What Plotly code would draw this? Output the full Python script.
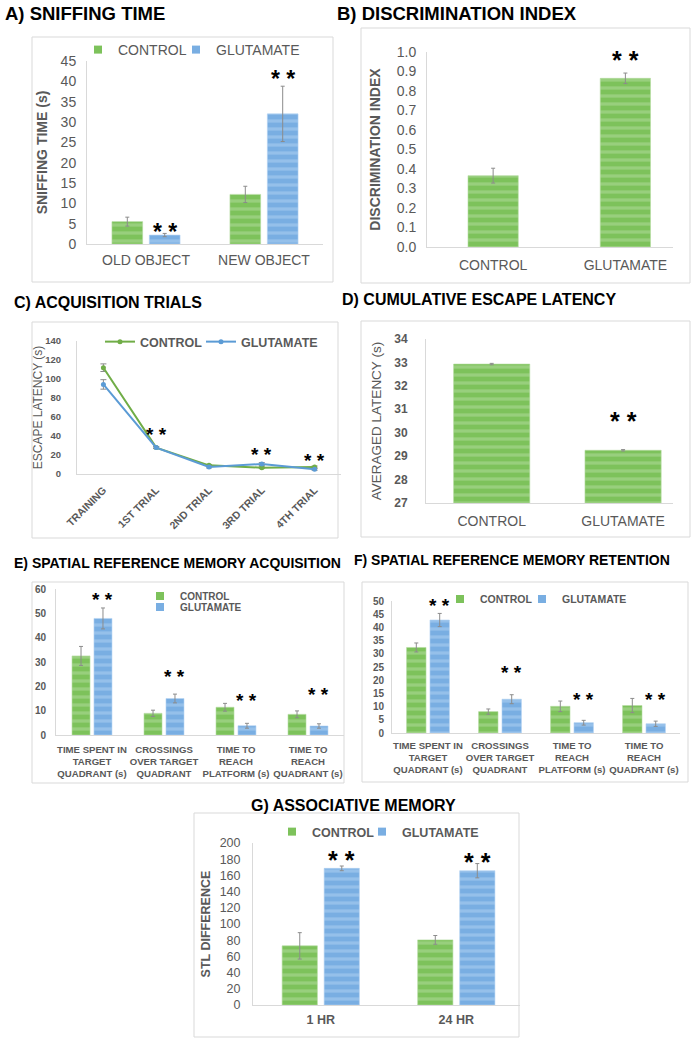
import plotly.graph_objects as go

W, H = 693, 1038
FONT = "Liberation Sans, Arial, sans-serif"
GRAY = "#595959"
GREEN, GREEN_L = "#7dc25b", "#b4dc9f"
BLUE, BLUE_L = "#79aee2", "#b1d2f1"
LINE_G, LINE_B = "#70ad47", "#5b9bd5"
ERR = "#8c8c8c"
FRAME = "#d9d9d9"

# ---------------- data ----------------
groups = ["CONTROL", "GLUTAMATE"]

# A) sniffing time
a_cats = ["OLD OBJECT", "NEW OBJECT"]
a_control = [5.5, 12.2]
a_control_err = [1.1, 2.0]
a_glut = [2.2, 32.0]
a_glut_err = [0.4, 6.8]
a_sig = [2.9, 40.5]

# B) discrimination index
b_cats = ["CONTROL", "GLUTAMATE"]
b_vals = [0.366, 0.865]
b_err = [0.038, 0.027]
b_sig = [None, 0.96]

# C) acquisition trials
c_cats = ["TRAINING", "1ST TRIAL", "2ND TRIAL", "3RD TRIAL", "4TH TRIAL"]
c_control = [111.9, 27.8, 9.1, 6.7, 7.4]
c_control_err = [4.0, 1.0, 1.0, 1.0, 1.0]
c_glut = [94.3, 27.8, 7.4, 10.5, 4.9]
c_glut_err = [5.0, 1.0, 1.0, 1.5, 1.0]
c_sig = [None, 42.0, None, 20.6, 14.4]

# D) cumulative escape latency
d_cats = ["CONTROL", "GLUTAMATE"]
d_vals = [32.93, 29.25]
d_err = [0.03, 0.03]
d_sig = [None, 30.51]

# E) spatial reference memory acquisition
e_cats = ["TIME SPENT IN<br>TARGET<br>QUADRANT (s)",
          "CROSSINGS<br>OVER TARGET<br>QUADRANT",
          "TIME TO<br>REACH<br>PLATFORM (s)",
          "TIME TO<br>REACH<br>QUADRANT (s)"]
e_control = [32.5, 8.9, 11.4, 8.5]
e_control_err = [3.9, 1.3, 1.6, 1.4]
e_glut = [47.9, 15.0, 3.8, 3.7]
e_glut_err = [4.3, 1.8, 1.0, 0.9]
e_sig = [55.7, 24.1, 14.1, 16.5]

# F) spatial reference memory retention
f_cats = e_cats
f_control = [32.4, 8.1, 10.1, 10.4]
f_control_err = [1.7, 1.0, 2.0, 2.7]
f_glut = [42.8, 12.8, 3.9, 3.5]
f_glut_err = [2.5, 1.7, 0.9, 1.0]
f_sig = [48.3, 23.0, 12.8, 12.8]

# G) associative memory
g_cats = ["1 HR", "24 HR"]
g_control = [73.0, 80.4]
g_control_err = [16.3, 5.4]
g_glut = [168.7, 165.8]
g_glut_err = [2.9, 8.8]
g_sig = [178.9, 176.8]

# ---------------- helpers ----------------
def px_x(px):
    return px / W

def px_y(py):
    return 1 - py / H

def xdom(l, r):
    return [l / W, r / W]

def ydom(top, bottom):
    return [1 - bottom / H, 1 - top / H]

def pattern(bg, fg):
    return dict(color=bg, line=dict(color=fg, width=0.6),
                pattern=dict(shape="-", fgcolor=fg, bgcolor=bg, size=8, solidity=0.4))

def errs(arr, w=2):
    return dict(type="data", array=arr, visible=True, color=ERR, thickness=1, width=w)

fig = go.Figure()
annotations = []

def sig_note(x, y, xa, ya, size):
    annotations.append(dict(x=x, y=y, xref=xa, yref=ya, text="* *", showarrow=False,
                            yanchor="middle",
                            font=dict(family=FONT, size=size, color="black", weight="bold")))

def legend_proxy(name, color, xa, ya, legend):
    fig.add_trace(go.Scatter(x=[None], y=[None], name=name, xaxis=xa, yaxis=ya,
                             mode="markers", legend=legend, hoverinfo="skip",
                             marker=dict(symbol="square", size=8, color=color,
                                         line=dict(color=color, width=0))))

def bar_pair(k, cats, cv, ce, gv, ge, w, gap, legends, sig, sigsize):
    xa = "x" if k == 1 else f"x{k}"
    ya = "y" if k == 1 else f"y{k}"
    fig.add_trace(go.Bar(x=cats, y=cv, name=groups[0], xaxis=xa, yaxis=ya,
                         width=w, offset=-(w + gap / 2),
                         marker=pattern(GREEN, GREEN_L), error_y=errs(ce),
                         showlegend=False, hoverinfo="x+y"))
    fig.add_trace(go.Bar(x=cats, y=gv, name=groups[1], xaxis=xa, yaxis=ya,
                         width=w, offset=gap / 2,
                         marker=pattern(BLUE, BLUE_L), error_y=errs(ge),
                         showlegend=False, hoverinfo="x+y"))
    legend_proxy(groups[0], GREEN, xa, ya, legends[0])
    legend_proxy(groups[1], BLUE, xa, ya, legends[1])
    for i, s in enumerate(sig):
        if s is not None:
            sig_note(i + gap / 2 + w / 2, s, xa, ya, sigsize)

def single_bars(k, cats, vals, err, w, sig, sigsize):
    xa, ya = f"x{k}", f"y{k}"
    fig.add_trace(go.Bar(x=cats, y=vals, xaxis=xa, yaxis=ya, width=w,
                         marker=pattern(GREEN, GREEN_L), error_y=errs(err),
                         showlegend=False, hoverinfo="x+y"))
    for i, s in enumerate(sig):
        if s is not None:
            sig_note(i, s, xa, ya, sigsize)

# A
bar_pair(1, a_cats, a_control, a_control_err, a_glut, a_glut_err, 0.26, 0.057,
         ["legend", "legend2"], a_sig, 23)
# B
single_bars(2, b_cats, b_vals, b_err, 0.38, b_sig, 25)
# C
fig.add_trace(go.Scatter(x=c_cats, y=c_control, name=groups[0], xaxis="x3", yaxis="y3",
                         mode="lines+markers", line=dict(color=LINE_G, width=2),
                         marker=dict(size=5, color=LINE_G), error_y=errs(c_control_err, 3),
                         legend="legend3"))
fig.add_trace(go.Scatter(x=c_cats, y=c_glut, name=groups[1], xaxis="x3", yaxis="y3",
                         mode="lines+markers", line=dict(color=LINE_B, width=2),
                         marker=dict(size=5, color=LINE_B), error_y=errs(c_glut_err, 3),
                         legend="legend4"))
for i, s in enumerate(c_sig):
    if s is not None:
        sig_note(i, s, "x3", "y3", 19)
# D
single_bars(4, d_cats, d_vals, d_err, 0.58, d_sig, 25)
# E
bar_pair(5, e_cats, e_control, e_control_err, e_glut, e_glut_err, 0.25, 0.055,
         ["legend5", "legend6"], e_sig, 19)
# F
bar_pair(6, f_cats, f_control, f_control_err, f_glut, f_glut_err, 0.27, 0.055,
         ["legend7", "legend8"], f_sig, 19)
# G
bar_pair(7, g_cats, g_control, g_control_err, g_glut, g_glut_err, 0.26, 0.05,
         ["legend9", "legend10"], g_sig, 25)

# ---------------- axes ----------------
def tf(size, bold=False):
    return dict(family=FONT, size=size, color=GRAY, weight="bold" if bold else "normal")

axes = {
    1: dict(x=(87, 323), y=(61, 244), xr=[-0.5, 1.5], yr=[0, 45], dt=5, fs=14, bold=False,
            xfs=14, xbold=False, ys=7, xs=3, title="SNIFFING TIME (s)", tfs=14, tbold=True, so=9),
    2: dict(x=(427, 673), y=(52, 247), xr=[-0.5, 1.36], yr=[0, 1.0], dt=0.1, fs=14, bold=False,
            xfs=14, xbold=False, ys=7, xs=5, title="DISCRIMINATION INDEX", tfs=14, tbold=True,
            so=12, fmt=".1f"),
    3: dict(x=(77, 341), y=(341, 474), xr=[-0.5, 4.5], yr=[0, 140], dt=20, fs=9.5, bold=True,
            xfs=10.5, xbold=True, ys=13, xs=5, title="ESCAPE LATENCY (s)", tfs=12, tbold=False,
            so=0, angle=-45),
    4: dict(x=(426, 673), y=(339, 503), xr=[-0.5, 1.38], yr=[27, 34], dt=1, fs=12, bold=True,
            xfs=14, xbold=False, ys=15, xs=5, title="AVERAGED LATENCY (s)", tfs=13.5,
            tbold=False, so=9),
    5: dict(x=(56, 344), y=(589, 735), xr=[-0.5, 3.5], yr=[0, 60], dt=10, fs=10, bold=True,
            xfs=9.6, xbold=True, ys=7, xs=5, title=None),
    6: dict(x=(392, 680), y=(601, 733), xr=[-0.5, 3.5], yr=[0, 50], dt=5, fs=10, bold=True,
            xfs=9.6, xbold=True, ys=5, xs=3, title=None),
    7: dict(x=(253, 520), y=(843, 1005), xr=[-0.5, 1.47], yr=[0, 200], dt=20, fs=12.5,
            bold=False, xfs=12.5, xbold=True, ys=9, xs=3, title="STL DIFFERENCE", tfs=12.5,
            tbold=True, so=6),
}

layout_axes = {}
for k, a in axes.items():
    xn = "xaxis" if k == 1 else f"xaxis{k}"
    yn = "yaxis" if k == 1 else f"yaxis{k}"
    xa = dict(domain=xdom(*a["x"]), range=a["xr"], type="category", showline=True,
              linecolor=FRAME, linewidth=1, showgrid=False, zeroline=False, ticks="",
              tickfont=tf(a["xfs"], a["xbold"]), automargin=False, fixedrange=True,
              ticklabelstandoff=a["xs"], anchor="y" if k == 1 else f"y{k}")
    if "angle" in a:
        xa["tickangle"] = a["angle"]
    ya = dict(domain=ydom(*a["y"]), range=a["yr"], dtick=a["dt"], tick0=a["yr"][0],
              showline=True, linecolor=FRAME, linewidth=1, showgrid=False, zeroline=False,
              ticks="", tickfont=tf(a["fs"], a["bold"]), automargin=False, fixedrange=True,
              ticklabelstandoff=a["ys"], anchor="x" if k == 1 else f"x{k}")
    if "fmt" in a:
        ya["tickformat"] = a["fmt"]
    if a.get("title"):
        ya["title"] = dict(text=a["title"], font=tf(a["tfs"], a["tbold"]), standoff=a["so"])
    layout_axes[xn] = xa
    layout_axes[yn] = ya

# ---------------- frames & titles ----------------
frames = [(32, 37, 333, 282), (361, 28, 690, 283), (32, 322, 338, 538),
          (361, 321, 690, 537), (32, 582, 344, 783), (362, 582, 688, 782),
          (194, 813, 519, 1037)]
shapes = [dict(type="rect", xref="paper", yref="paper", x0=px_x(l), x1=px_x(r),
               y0=px_y(b), y1=px_y(t), line=dict(color=FRAME, width=1), layer="below")
          for (l, t, r, b) in frames]

titles = [("A) SNIFFING TIME", 3, 13, 18.5, "left"),
          ("B) DISCRIMINATION INDEX", 335, 13, 18.5, "left"),
          ("C) ACQUISITION TRIALS", 12, 302, 16, "left"),
          ("D) CUMULATIVE ESCAPE LATENCY", 340, 300, 16, "left"),
          ("E) SPATIAL REFERENCE MEMORY ACQUISITION", 12, 563, 14, "left"),
          ("F) SPATIAL REFERENCE MEMORY RETENTION", 352, 560, 14, "left"),
          ("G) ASSOCIATIVE MEMORY", 353, 805, 16, "center")]
for text, x, y, s, anc in titles:
    annotations.append(dict(text=text, x=px_x(x), y=px_y(y), xref="paper", yref="paper",
                            xanchor=anc, yanchor="middle", showarrow=False,
                            font=dict(family=FONT, size=s, color="black", weight="bold")))

# ---------------- legends (one item each: text start px, centre y px) ----------------
def leg(text_x, y, size, bold):
    return dict(x=px_x(text_x - 40), y=px_y(y), xanchor="left", yanchor="middle",
                orientation="h", bgcolor="rgba(0,0,0,0)", borderwidth=0,
                font=dict(family=FONT, size=size, color=GRAY,
                          weight="bold" if bold else "normal"))

legends = {
    "legend": leg(118, 50, 14, False), "legend2": leg(216, 50, 14, False),
    "legend3": leg(140, 342, 12.5, True), "legend4": leg(241, 342, 12.5, True),
    "legend5": leg(180, 596, 10, True), "legend6": leg(180, 607, 10, True),
    "legend7": leg(480, 599, 10.5, True), "legend8": leg(562, 599, 10.5, True),
    "legend9": leg(312, 832, 12.5, True), "legend10": leg(402, 832, 12.5, True),
}

fig.update_layout(width=W, height=H, margin=dict(l=0, r=0, t=0, b=0),
                  paper_bgcolor="white", plot_bgcolor="rgba(0,0,0,0)",
                  barmode="overlay", shapes=shapes, annotations=annotations,
                  font=dict(family=FONT, color=GRAY), **layout_axes, **legends)

fig.write_html("out.html", config={"displayModeBar": False},
               post_script="document.body.style.margin='0px';")
